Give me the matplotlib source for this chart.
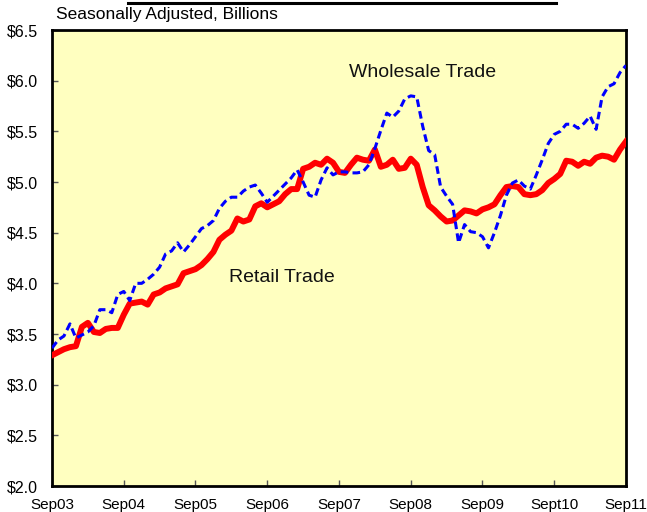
import numpy as np
import matplotlib
matplotlib.use('Agg')
import matplotlib.pyplot as plt
from matplotlib.lines import Line2D

plt.rcParams['font.family'] = ['Liberation Sans', 'DejaVu Sans']

# monthly values, Sep03 .. Sep11 (billions of dollars)
retail = [3.29, 3.32, 3.35, 3.37, 3.38, 3.57, 3.61, 3.52, 3.51, 3.55, 3.56, 3.56,
          3.69, 3.80, 3.81, 3.82, 3.79, 3.89, 3.91, 3.95, 3.97, 3.99, 4.10, 4.12,
          4.14, 4.18, 4.24, 4.31, 4.43, 4.48, 4.52, 4.64, 4.61, 4.63, 4.76, 4.79,
          4.75, 4.78, 4.81, 4.88, 4.93, 4.93, 5.13, 5.15, 5.19, 5.17, 5.23, 5.19,
          5.10, 5.09, 5.17, 5.24, 5.22, 5.21, 5.32, 5.15, 5.17, 5.22, 5.13, 5.14,
          5.23, 5.17, 4.95, 4.77, 4.72, 4.66, 4.61, 4.62, 4.67, 4.72, 4.71, 4.69,
          4.73, 4.75, 4.78, 4.87, 4.95, 4.96, 4.95, 4.88, 4.87, 4.88, 4.92, 4.99,
          5.03, 5.08, 5.21, 5.20, 5.16, 5.20, 5.18, 5.24, 5.26, 5.25, 5.22, 5.32,
          5.40]
wholesale = [3.36, 3.44, 3.48, 3.60, 3.46, 3.49, 3.52, 3.58, 3.74, 3.74, 3.71, 3.89,
             3.92, 3.83, 4.00, 4.00, 4.04, 4.09, 4.16, 4.29, 4.32, 4.40, 4.31, 4.38,
             4.46, 4.54, 4.57, 4.62, 4.74, 4.81, 4.85, 4.85, 4.91, 4.95, 4.97, 4.89,
             4.80, 4.86, 4.92, 4.98, 5.04, 5.12, 5.00, 4.87, 4.85, 5.02, 5.14, 5.07,
             5.10, 5.10, 5.09, 5.09, 5.10, 5.17, 5.33, 5.51, 5.68, 5.64, 5.70, 5.82,
             5.85, 5.84, 5.55, 5.31, 5.27, 4.95, 4.86, 4.78, 4.40, 4.58, 4.51, 4.50,
             4.46, 4.35, 4.50, 4.67, 4.87, 4.99, 5.02, 4.96, 4.93, 5.07, 5.22, 5.38,
             5.47, 5.50, 5.57, 5.57, 5.53, 5.58, 5.65, 5.52, 5.84, 5.94, 5.97, 6.08,
             6.15]
year_labels = ['Sep03', 'Sep04', 'Sep05', 'Sep06', 'Sep07', 'Sep08', 'Sep09', 'Sept10', 'Sep11']
y_ticks = [2.0, 2.5, 3.0, 3.5, 4.0, 4.5, 5.0, 5.5, 6.0, 6.5]

months = np.arange(len(retail))

fig = plt.figure(figsize=(6.47, 5.12), dpi=100)
ax = fig.add_axes([52 / 647, 26 / 512, 574 / 647, 456 / 512])
ax.set_facecolor('#FFFFC0')

ax.plot(months, retail, color='#FF0000', lw=4.3, solid_joinstyle='round', zorder=3)
ax.plot(months, wholesale, color='#0000FF', lw=2.2, dashes=(2.5, 1.4), zorder=4)

ax.set_xlim(0, 96)
ax.set_ylim(2.0, 6.5)
ax.set_xticks(np.arange(0, 97, 12))
ax.set_xticklabels(year_labels)
ax.set_yticks(y_ticks)
ax.set_yticklabels(['${:.1f}'.format(v) for v in y_ticks])

ax.tick_params(axis='both', direction='in', length=4, width=1, color='#555555',
               labelcolor='black')
ax.tick_params(axis='y', pad=10, labelsize=11.5)
ax.tick_params(axis='x', pad=9, labelsize=11)
for s in ax.spines.values():
    s.set_linewidth(2)
    s.set_color('black')

ax.text(49.7, 6.085, 'Wholesale Trade', fontsize=14, va='center', ha='left', color='#111111')
ax.text(29.6, 4.06, 'Retail Trade', fontsize=14, va='center', ha='left', color='#111111')

fig.text(56 / 647, 1 - 15 / 512, 'Seasonally Adjusted, Billions', fontsize=12.5,
         va='center', ha='left')
fig.add_artist(Line2D([128 / 647, 556 / 647], [1 - 2.5 / 512, 1 - 2.5 / 512],
                      color='black', lw=2.2, transform=fig.transFigure))

fig.savefig('out.png', dpi=100)
